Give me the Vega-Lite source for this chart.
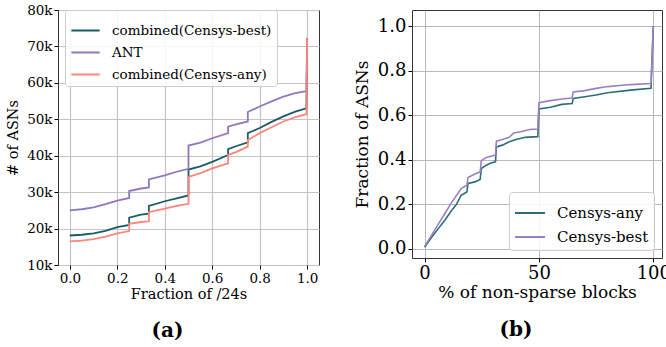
{
  "$schema": "https://vega.github.io/schema/vega-lite/v6.json",
  "padding": {"left": 5, "top": 2, "right": 0, "bottom": 0},
  "spacing": 32,
  "resolve": {"scale": {"color": "independent"}, "legend": {"color": "independent"}},
  "config": {
    "font": "DejaVu Serif",
    "view": {"stroke": "#333333", "strokeWidth": 1},
    "axis": {"domain": false, "tickColor": "#000000", "tickSize": 4, "labelPadding": 2, "labelColor": "#000000", "titleColor": "#000000", "titleFontWeight": "normal", "labelFont": "DejaVu Serif", "titleFont": "DejaVu Serif"},
    "legend": {"labelFont": "DejaVu Serif", "labelColor": "#000000"}
  },
  "datasets": {
    "a": [
      {"s": "combined(Censys-best)", "i": 0, "x": 0, "y": 18100},
      {"s": "combined(Censys-best)", "i": 1, "x": 0.05, "y": 18300},
      {"s": "combined(Censys-best)", "i": 2, "x": 0.1, "y": 18700},
      {"s": "combined(Censys-best)", "i": 3, "x": 0.15, "y": 19400},
      {"s": "combined(Censys-best)", "i": 4, "x": 0.2, "y": 20400},
      {"s": "combined(Censys-best)", "i": 5, "x": 0.25, "y": 21000},
      {"s": "combined(Censys-best)", "i": 6, "x": 0.25, "y": 23000},
      {"s": "combined(Censys-best)", "i": 7, "x": 0.3, "y": 23800},
      {"s": "combined(Censys-best)", "i": 8, "x": 0.333, "y": 24100},
      {"s": "combined(Censys-best)", "i": 9, "x": 0.333, "y": 26200},
      {"s": "combined(Censys-best)", "i": 10, "x": 0.4, "y": 27500},
      {"s": "combined(Censys-best)", "i": 11, "x": 0.45, "y": 28300},
      {"s": "combined(Censys-best)", "i": 12, "x": 0.5, "y": 29100},
      {"s": "combined(Censys-best)", "i": 13, "x": 0.5, "y": 36200},
      {"s": "combined(Censys-best)", "i": 14, "x": 0.55, "y": 37100},
      {"s": "combined(Censys-best)", "i": 15, "x": 0.6, "y": 38300},
      {"s": "combined(Censys-best)", "i": 16, "x": 0.667, "y": 40200},
      {"s": "combined(Censys-best)", "i": 17, "x": 0.667, "y": 41800},
      {"s": "combined(Censys-best)", "i": 18, "x": 0.7, "y": 42600},
      {"s": "combined(Censys-best)", "i": 19, "x": 0.75, "y": 43700},
      {"s": "combined(Censys-best)", "i": 20, "x": 0.75, "y": 46200},
      {"s": "combined(Censys-best)", "i": 21, "x": 0.8, "y": 47600},
      {"s": "combined(Censys-best)", "i": 22, "x": 0.85, "y": 49300},
      {"s": "combined(Censys-best)", "i": 23, "x": 0.9, "y": 50800},
      {"s": "combined(Censys-best)", "i": 24, "x": 0.95, "y": 52100},
      {"s": "combined(Censys-best)", "i": 25, "x": 0.997, "y": 53000},
      {"s": "combined(Censys-best)", "i": 26, "x": 1.0, "y": 72200},
      {"s": "ANT", "i": 0, "x": 0, "y": 25000},
      {"s": "ANT", "i": 1, "x": 0.05, "y": 25300},
      {"s": "ANT", "i": 2, "x": 0.1, "y": 25800},
      {"s": "ANT", "i": 3, "x": 0.15, "y": 26700},
      {"s": "ANT", "i": 4, "x": 0.2, "y": 27700},
      {"s": "ANT", "i": 5, "x": 0.25, "y": 28400},
      {"s": "ANT", "i": 6, "x": 0.25, "y": 30300},
      {"s": "ANT", "i": 7, "x": 0.3, "y": 31000},
      {"s": "ANT", "i": 8, "x": 0.333, "y": 31300},
      {"s": "ANT", "i": 9, "x": 0.333, "y": 33500},
      {"s": "ANT", "i": 10, "x": 0.4, "y": 34600},
      {"s": "ANT", "i": 11, "x": 0.45, "y": 35600},
      {"s": "ANT", "i": 12, "x": 0.5, "y": 36400},
      {"s": "ANT", "i": 13, "x": 0.5, "y": 42800},
      {"s": "ANT", "i": 14, "x": 0.55, "y": 43600},
      {"s": "ANT", "i": 15, "x": 0.6, "y": 44800},
      {"s": "ANT", "i": 16, "x": 0.667, "y": 46200},
      {"s": "ANT", "i": 17, "x": 0.667, "y": 48000},
      {"s": "ANT", "i": 18, "x": 0.7, "y": 48600},
      {"s": "ANT", "i": 19, "x": 0.75, "y": 49400},
      {"s": "ANT", "i": 20, "x": 0.75, "y": 52000},
      {"s": "ANT", "i": 21, "x": 0.8, "y": 53500},
      {"s": "ANT", "i": 22, "x": 0.85, "y": 54900},
      {"s": "ANT", "i": 23, "x": 0.9, "y": 56200},
      {"s": "ANT", "i": 24, "x": 0.95, "y": 57200},
      {"s": "ANT", "i": 25, "x": 0.997, "y": 57700},
      {"s": "ANT", "i": 26, "x": 1.0, "y": 72200},
      {"s": "combined(Censys-any)", "i": 0, "x": 0, "y": 16500},
      {"s": "combined(Censys-any)", "i": 1, "x": 0.05, "y": 16700},
      {"s": "combined(Censys-any)", "i": 2, "x": 0.1, "y": 17100},
      {"s": "combined(Censys-any)", "i": 3, "x": 0.15, "y": 17800},
      {"s": "combined(Censys-any)", "i": 4, "x": 0.2, "y": 18700},
      {"s": "combined(Censys-any)", "i": 5, "x": 0.25, "y": 19300},
      {"s": "combined(Censys-any)", "i": 6, "x": 0.25, "y": 21300},
      {"s": "combined(Censys-any)", "i": 7, "x": 0.3, "y": 21800},
      {"s": "combined(Censys-any)", "i": 8, "x": 0.333, "y": 22000},
      {"s": "combined(Censys-any)", "i": 9, "x": 0.333, "y": 24500},
      {"s": "combined(Censys-any)", "i": 10, "x": 0.4, "y": 25500},
      {"s": "combined(Censys-any)", "i": 11, "x": 0.45, "y": 26200},
      {"s": "combined(Censys-any)", "i": 12, "x": 0.5, "y": 26800},
      {"s": "combined(Censys-any)", "i": 13, "x": 0.5, "y": 34200},
      {"s": "combined(Censys-any)", "i": 14, "x": 0.55, "y": 35200},
      {"s": "combined(Censys-any)", "i": 15, "x": 0.6, "y": 36500},
      {"s": "combined(Censys-any)", "i": 16, "x": 0.667, "y": 37900},
      {"s": "combined(Censys-any)", "i": 17, "x": 0.667, "y": 40200},
      {"s": "combined(Censys-any)", "i": 18, "x": 0.7, "y": 41000},
      {"s": "combined(Censys-any)", "i": 19, "x": 0.75, "y": 42500},
      {"s": "combined(Censys-any)", "i": 20, "x": 0.75, "y": 44300},
      {"s": "combined(Censys-any)", "i": 21, "x": 0.8, "y": 46200},
      {"s": "combined(Censys-any)", "i": 22, "x": 0.85, "y": 47800},
      {"s": "combined(Censys-any)", "i": 23, "x": 0.9, "y": 49400},
      {"s": "combined(Censys-any)", "i": 24, "x": 0.95, "y": 50600},
      {"s": "combined(Censys-any)", "i": 25, "x": 0.997, "y": 51400},
      {"s": "combined(Censys-any)", "i": 26, "x": 1.0, "y": 72200}
    ],
    "b": [
      {"s": "Censys-any", "i": 0, "x": 0, "y": 0.006},
      {"s": "Censys-any", "i": 1, "x": 3, "y": 0.05},
      {"s": "Censys-any", "i": 2, "x": 6, "y": 0.09},
      {"s": "Censys-any", "i": 3, "x": 9, "y": 0.13},
      {"s": "Censys-any", "i": 4, "x": 12, "y": 0.174},
      {"s": "Censys-any", "i": 5, "x": 14, "y": 0.2},
      {"s": "Censys-any", "i": 6, "x": 16, "y": 0.24},
      {"s": "Censys-any", "i": 7, "x": 18.5, "y": 0.255},
      {"s": "Censys-any", "i": 8, "x": 19, "y": 0.293},
      {"s": "Censys-any", "i": 9, "x": 22, "y": 0.3},
      {"s": "Censys-any", "i": 10, "x": 24.3, "y": 0.311},
      {"s": "Censys-any", "i": 11, "x": 24.8, "y": 0.36},
      {"s": "Censys-any", "i": 12, "x": 27, "y": 0.375},
      {"s": "Censys-any", "i": 13, "x": 29, "y": 0.385},
      {"s": "Censys-any", "i": 14, "x": 31, "y": 0.39},
      {"s": "Censys-any", "i": 15, "x": 31.4, "y": 0.457},
      {"s": "Censys-any", "i": 16, "x": 34, "y": 0.465},
      {"s": "Censys-any", "i": 17, "x": 37, "y": 0.48},
      {"s": "Censys-any", "i": 18, "x": 40, "y": 0.49},
      {"s": "Censys-any", "i": 19, "x": 44, "y": 0.5},
      {"s": "Censys-any", "i": 20, "x": 49.5, "y": 0.503},
      {"s": "Censys-any", "i": 21, "x": 50, "y": 0.628},
      {"s": "Censys-any", "i": 22, "x": 55, "y": 0.635},
      {"s": "Censys-any", "i": 23, "x": 60, "y": 0.648},
      {"s": "Censys-any", "i": 24, "x": 64.5, "y": 0.652},
      {"s": "Censys-any", "i": 25, "x": 65, "y": 0.675},
      {"s": "Censys-any", "i": 26, "x": 70, "y": 0.682},
      {"s": "Censys-any", "i": 27, "x": 75, "y": 0.69},
      {"s": "Censys-any", "i": 28, "x": 80, "y": 0.7},
      {"s": "Censys-any", "i": 29, "x": 90, "y": 0.712},
      {"s": "Censys-any", "i": 30, "x": 99, "y": 0.72},
      {"s": "Censys-any", "i": 31, "x": 100, "y": 1.0},
      {"s": "Censys-best", "i": 0, "x": 0, "y": 0.009},
      {"s": "Censys-best", "i": 1, "x": 3, "y": 0.06},
      {"s": "Censys-best", "i": 2, "x": 6, "y": 0.11},
      {"s": "Censys-best", "i": 3, "x": 9, "y": 0.16},
      {"s": "Censys-best", "i": 4, "x": 12, "y": 0.21},
      {"s": "Censys-best", "i": 5, "x": 14, "y": 0.24},
      {"s": "Censys-best", "i": 6, "x": 16, "y": 0.27},
      {"s": "Censys-best", "i": 7, "x": 18.5, "y": 0.285},
      {"s": "Censys-best", "i": 8, "x": 19, "y": 0.32},
      {"s": "Censys-best", "i": 9, "x": 22, "y": 0.335},
      {"s": "Censys-best", "i": 10, "x": 24.3, "y": 0.345},
      {"s": "Censys-best", "i": 11, "x": 24.8, "y": 0.395},
      {"s": "Censys-best", "i": 12, "x": 27, "y": 0.41},
      {"s": "Censys-best", "i": 13, "x": 29, "y": 0.415},
      {"s": "Censys-best", "i": 14, "x": 31, "y": 0.42},
      {"s": "Censys-best", "i": 15, "x": 31.4, "y": 0.483},
      {"s": "Censys-best", "i": 16, "x": 34, "y": 0.49},
      {"s": "Censys-best", "i": 17, "x": 37, "y": 0.5},
      {"s": "Censys-best", "i": 18, "x": 39, "y": 0.52},
      {"s": "Censys-best", "i": 19, "x": 42, "y": 0.525},
      {"s": "Censys-best", "i": 20, "x": 46, "y": 0.535},
      {"s": "Censys-best", "i": 21, "x": 49.5, "y": 0.537},
      {"s": "Censys-best", "i": 22, "x": 50, "y": 0.656},
      {"s": "Censys-best", "i": 23, "x": 55, "y": 0.665},
      {"s": "Censys-best", "i": 24, "x": 60, "y": 0.672},
      {"s": "Censys-best", "i": 25, "x": 64.5, "y": 0.677},
      {"s": "Censys-best", "i": 26, "x": 65, "y": 0.704},
      {"s": "Censys-best", "i": 27, "x": 70, "y": 0.71},
      {"s": "Censys-best", "i": 28, "x": 75, "y": 0.72},
      {"s": "Censys-best", "i": 29, "x": 80, "y": 0.728},
      {"s": "Censys-best", "i": 30, "x": 90, "y": 0.737},
      {"s": "Censys-best", "i": 31, "x": 99, "y": 0.742},
      {"s": "Censys-best", "i": 32, "x": 100, "y": 1.0}
    ]
  },
  "hconcat": [
    {
      "width": 261,
      "height": 255,
      "data": {"name": "a"},
      "title": {"text": "(a)", "orient": "bottom", "anchor": "middle", "dx": -21, "offset": 20, "fontSize": 20, "fontWeight": "bold", "font": "DejaVu Serif", "color": "#000000"},
      "mark": {"type": "line", "strokeWidth": 1.8, "clip": true},
      "encoding": {
        "x": {"field": "x", "type": "quantitative", "scale": {"domain": [-0.05, 1.05], "nice": false, "zero": false},
              "axis": {"values": [0, 0.2, 0.4, 0.6, 0.8, 1.0], "format": ".1f", "title": "Fraction of /24s", "labelFontSize": 13.5, "titleFontSize": 14.5, "titlePadding": 3, "gridColor": "#c4c4c4", "gridWidth": 1.2}},
        "y": {"field": "y", "type": "quantitative", "scale": {"domain": [10000, 80000], "nice": false, "zero": false},
              "axis": {"values": [10000, 20000, 30000, 40000, 50000, 60000, 70000, 80000], "format": "~s", "title": "# of ASNs", "labelFontSize": 13.5, "titleFontSize": 14.5, "titlePadding": 6, "gridColor": "#c4c4c4", "gridWidth": 1.2}},
        "color": {"field": "s", "type": "nominal",
                  "scale": {"domain": ["combined(Censys-best)", "ANT", "combined(Censys-any)"], "range": ["#1b5b66", "#9277bd", "#ff857a"]},
                  "legend": {"title": null, "orient": "none", "legendX": 7, "legendY": 0, "labelFontSize": 13.5, "symbolType": "stroke", "symbolSize": 800, "symbolStrokeWidth": 2, "labelOffset": 11, "padding": 5, "rowPadding": -9, "fillColor": "rgba(255,255,255,0.85)", "strokeColor": "#cccccc", "cornerRadius": 3}},
        "order": {"field": "i", "type": "quantitative"}
      }
    },
    {
      "width": 250,
      "height": 248,
      "data": {"name": "b"},
      "title": {"text": "(b)", "orient": "bottom", "anchor": "middle", "dx": -21, "offset": 20, "fontSize": 20, "fontWeight": "bold", "font": "DejaVu Serif", "color": "#000000"},
      "mark": {"type": "line", "strokeWidth": 1.6, "clip": true},
      "encoding": {
        "x": {"field": "x", "type": "quantitative", "scale": {"domain": [-5.5, 103.8], "nice": false, "zero": false},
              "axis": {"values": [0, 50, 100], "title": "% of non-sparse blocks", "labelFontSize": 18, "titleFontSize": 17, "titlePadding": 2, "gridColor": "#b8b8b8", "gridWidth": 1}},
        "y": {"field": "y", "type": "quantitative", "scale": {"domain": [-0.042, 1.072], "nice": false, "zero": false},
              "axis": {"values": [0, 0.2, 0.4, 0.6, 0.8, 1.0], "format": ".1f", "title": "Fraction of ASNs", "labelFontSize": 18, "titleFontSize": 17, "titlePadding": 6, "gridColor": "#b8b8b8", "gridWidth": 1}},
        "color": {"field": "s", "type": "nominal",
                  "scale": {"domain": ["Censys-any", "Censys-best"], "range": ["#2c6d76", "#9a80c4"]},
                  "legend": {"title": null, "orient": "bottom-right", "offset": 8, "labelFontSize": 15, "symbolType": "stroke", "symbolSize": 900, "symbolStrokeWidth": 2, "labelOffset": 11, "padding": 5, "rowPadding": -8, "fillColor": "rgba(255,255,255,0.85)", "strokeColor": "#cccccc", "cornerRadius": 3}},
        "order": {"field": "i", "type": "quantitative"}
      }
    }
  ]
}
